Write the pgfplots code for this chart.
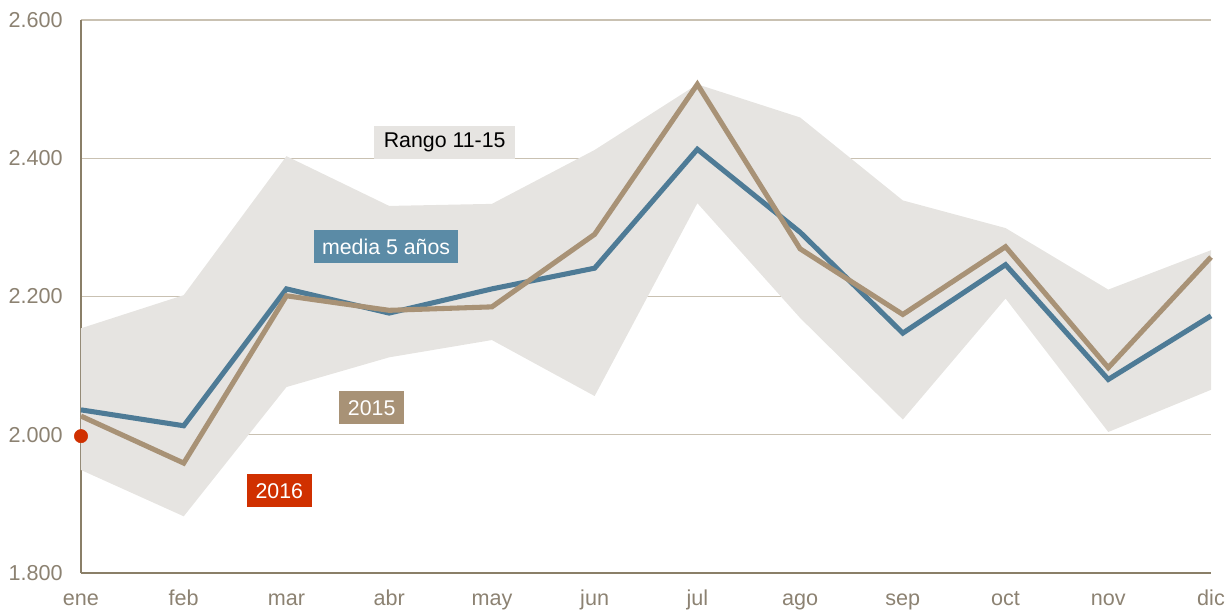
\documentclass[border=0pt]{standalone}
\usepackage{pgfplots}
\pgfplotsset{compat=1.18}
\usepackage{pgfplotstable}
\usepackage{fontspec}
\setmainfont{Liberation Sans}
\definecolor{areac}{HTML}{E6E4E1}
\definecolor{bluec}{HTML}{4E7B96}
\definecolor{bluebox}{HTML}{5B8BA6}
\definecolor{tanc}{HTML}{A89276}
\definecolor{redc}{HTML}{D03000}
\definecolor{gridc}{HTML}{C9C1B2}
\definecolor{axisc}{HTML}{8A7F68}
\definecolor{tickc}{HTML}{8C8272}
\pgfplotstableread{
x upper lower media y2015
0 2154 1949 2036 2027
1 2202 1882 2013 1959
2 2403 2069 2211 2201
3 2331 2112 2176 2180
4 2334 2137 2211 2185
5 2412 2056 2241 2290
6 2507 2335 2413 2507
7 2459 2169 2293 2269
8 2339 2022 2147 2174
9 2299 2197 2246 2272
10 2210 2004 2080 2097
11 2267 2065 2172 2257
}\datatable
% range polygon: upper bound forward, lower bound back
\pgfplotstableread{
x y
0 2154
1 2202
2 2403
3 2331
4 2334
5 2412
6 2507
7 2459
8 2339
9 2299
10 2210
11 2267
11 2065
10 2004
9 2197
8 2022
7 2169
6 2335
5 2056
4 2137
3 2112
2 2069
1 1882
0 1949
}\areatable
\begin{document}
\begin{tikzpicture}
\begin{axis}[
  scale only axis,
  width=847.5pt, height=414.75pt,
  xmin=0, xmax=11, ymin=1800, ymax=2600,
  axis lines=left,
  axis line style={-, draw=axisc, line width=1.5pt},
  clip=false,
  xtick={0,...,11},
  xticklabels={ene,feb,mar,abr,may,jun,jul,ago,sep,oct,nov,dic},
  ytick={1800,2000,2200,2400,2600},
  yticklabels={1.800,2.000,2.200,2.400,2.600},
  major tick length=0pt,
  ymajorgrids,
  grid style={draw=gridc, line width=1pt},
  tick label style={font=\fontsize{16.2}{19}\selectfont, text=tickc},
  x tick label style={anchor=base, yshift=-24.5pt},
  y tick label style={anchor=east, inner sep=0pt, xshift=-13.5pt},
]
\addplot[fill=areac, draw=none] table[x=x, y=y] {\areatable} -- cycle;
\addplot[color=bluec, line width=3.8pt, line join=miter] table[x=x, y=media] {\datatable};
\addplot[color=tanc, line width=3.8pt, line join=miter] table[x=x, y=y2015] {\datatable};
\addplot[only marks, mark=*, mark size=5pt, color=redc] coordinates {(0,1998)};
\node[fill=areac, text=black, font=\fontsize{16}{19}\selectfont, inner xsep=7pt, minimum height=24.75pt] at (axis cs:3.54,2423) {Rango 11-15};
\node[fill=bluebox, text=white, font=\fontsize{16}{19}\selectfont, inner xsep=6.2pt, minimum height=24.75pt] at (axis cs:2.97,2272) {media 5 años};
\node[fill=tanc, text=white, font=\fontsize{16}{19}\selectfont, inner xsep=6.5pt, minimum height=24.75pt] at (axis cs:2.83,2039) {2015};
\node[fill=redc, text=white, font=\fontsize{16}{19}\selectfont, inner xsep=6.5pt, minimum height=24.75pt] at (axis cs:1.93,1919) {2016};
\end{axis}
\pgfresetboundingbox
\path[use as bounding box] ([xshift=-60.75pt,yshift=-27.75pt]current axis.south west) rectangle ([xshift=15pt,yshift=15pt]current axis.north east);
\end{tikzpicture}
\end{document}
